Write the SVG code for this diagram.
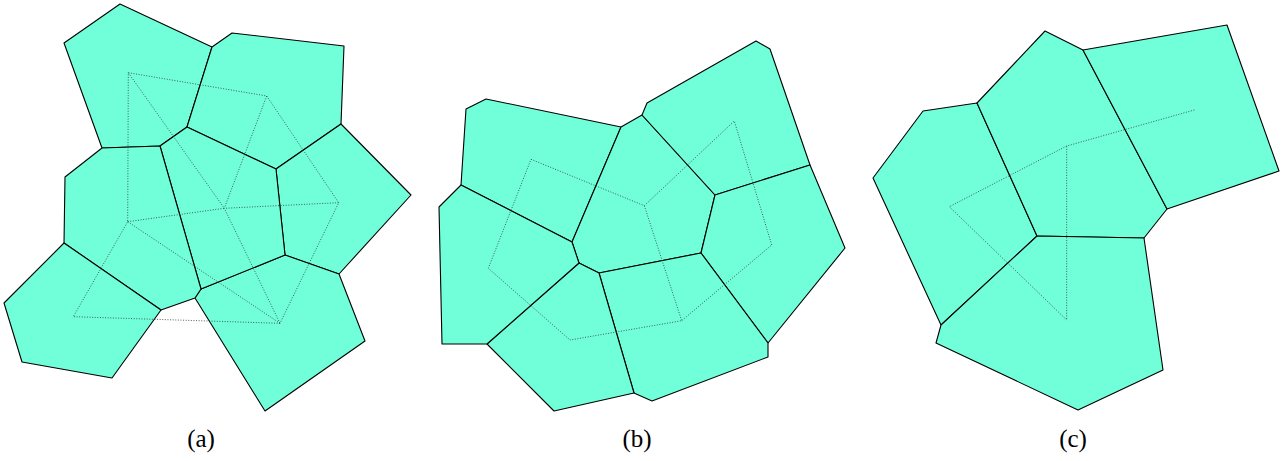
<svg xmlns="http://www.w3.org/2000/svg" width="1285" height="461" viewBox="0 0 1285 461">
<style>
.cell{fill:#70FFD9;stroke:#000;stroke-width:1.1;stroke-linejoin:round}
.dual{fill:none;stroke:#333;stroke-width:0.8;stroke-dasharray:1 1.6}
.lbl{font-family:"Liberation Serif",serif;font-size:25px;fill:#000;text-anchor:middle}
</style>
<rect width="1285" height="461" fill="#fff"/>
<g id="panel-a">
<polygon id="a-tl" class="cell" points="64,43 120,4 212,47 187,127 160,146 102,148"/>
<polygon id="a-tr" class="cell" points="212,47 232,33 344,46 341,124 276,169 187,127"/>
<polygon id="a-r" class="cell" points="341,124 411,195 339,274 285,255 276,169"/>
<polygon id="a-br" class="cell" points="201,289 285,255 339,274 365,341 265,411 195,298"/>
<polygon id="a-c" class="cell" points="187,127 276,169 285,255 201,289 160,146"/>
<polygon id="a-l" class="cell" points="102,148 160,146 201,289 195,298 161,310 64,243 65,177"/>
<polygon id="a-bl" class="cell" points="64,243 161,310 112,378 22,362 4,303"/>
<g id="a-dual" class="dual">
<path d="M128.3,72.7 L266.7,96 L338.7,202.7 L280,323.3 L73.3,316.7 L127.7,221.7 Z"/>
<path d="M128.3,72.7 L224.3,208.3 M266.7,96 L224.3,208.3 M338.7,202.7 L224.3,208.3 M280,323.3 L224.3,208.3 M127.7,221.7 L224.3,208.3 M127.7,221.7 L280,323.3"/>
</g>
</g>
<g id="panel-b">
<polygon id="b-tl" class="cell" points="466,109 486,99 621,127 572,242 461,185"/>
<polygon id="b-c" class="cell" points="621,127 642,115 715,195 701,253 599,273 579,263 572,242"/>
<polygon id="b-tr" class="cell" points="642,115 647,103 756,41 770,49 810,165 715,195"/>
<polygon id="b-r" class="cell" points="810,165 845,248 768,343 701,253 715,195"/>
<polygon id="b-br" class="cell" points="599,273 701,253 768,343 768,357 652,401 634,393"/>
<polygon id="b-bc" class="cell" points="579,263 599,273 634,393 554,411 487,344"/>
<polygon id="b-l" class="cell" points="461,185 572,242 579,263 487,344 442,344 439,207"/>
<g id="b-dual" class="dual">
<path d="M531,159.3 L644.3,205.7 L734.3,121 L771.7,245 L681.7,320.7 L570,340 L488.3,268.3 Z M644.3,205.7 L681.7,320.7"/>
</g>
</g>
<g id="panel-c">
<polygon id="c-l" class="cell" points="923,111 977,103 1037,236 941,325 873,178"/>
<polygon id="c-t" class="cell" points="977,103 1045,31 1083,50 1167,209 1144,238 1037,236"/>
<polygon id="c-tr" class="cell" points="1083,50 1227,25 1279,171 1167,209"/>
<polygon id="c-b" class="cell" points="1037,236 1144,238 1163,370 1078,410 936,343 941,325"/>
<g id="c-dual" class="dual">
<path d="M1194.3,110 L1066.7,146 L949.3,206.7 L1066.7,320 L1066.7,146"/>
</g>
</g>
<g id="labels">
<text class="lbl" x="201" y="447">(a)</text>
<text class="lbl" x="637" y="447">(b)</text>
<text class="lbl" x="1073" y="447">(c)</text>
</g>
</svg>
